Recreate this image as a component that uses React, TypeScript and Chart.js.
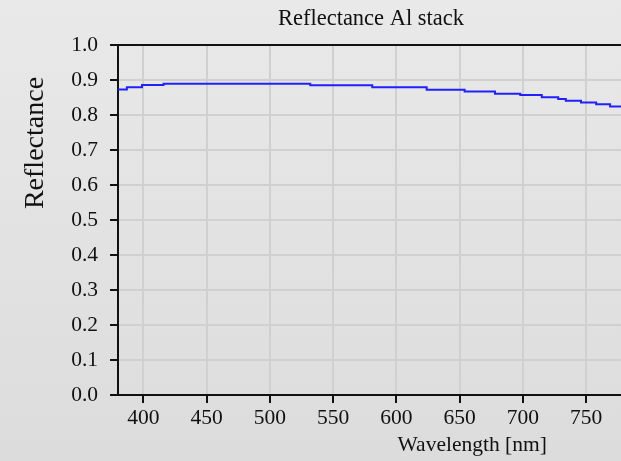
import React, { useEffect, useRef } from "react";
import { Chart, registerables } from "chart.js";

Chart.register(...registerables);

const titleText = "Reflectance Al stack";
const xTitle = "Wavelength [nm]";
const yTitle = "Reflectance";
const xTickValues = [400, 450, 500, 550, 600, 650, 700, 750];
// step starts (nm) and reflectance held from each start
const wavelengths = [380, 387, 399, 416, 532, 581, 624, 654, 678, 698, 715, 728, 734, 746, 758, 769, 780];
const reflectance = [0.873, 0.879, 0.886, 0.889, 0.885, 0.879, 0.872, 0.867, 0.861, 0.857, 0.851, 0.846, 0.841, 0.836, 0.831, 0.824, 0.82];

const FONT = "'Liberation Serif', 'Times New Roman', serif";
const TEXT = "#111";

const bgPlugin = {
  id: "bg",
  beforeDraw(chart: any) {
    const { ctx, width, height } = chart;
    const g = ctx.createLinearGradient(0, 0, 0, height);
    g.addColorStop(0, "#e9e9e9");
    g.addColorStop(1, "#dcdcdc");
    ctx.save();
    ctx.fillStyle = g;
    ctx.fillRect(0, 0, width, height);
    ctx.restore();
  },
};

const axisTitlePlugin = {
  id: "axisTitles",
  afterDraw(chart: any) {
    const { ctx, chartArea } = chart;
    const w = chartArea.right - chartArea.left;
    const h = chartArea.bottom - chartArea.top;
    ctx.save();
    ctx.fillStyle = TEXT;
    ctx.textAlign = "center";
    ctx.textBaseline = "middle";
    ctx.font = `21.5px ${FONT}`;
    ctx.fillText(xTitle, chartArea.left + w * 0.7, chartArea.bottom + 50);
    ctx.translate(36, chartArea.top + h * 0.28);
    ctx.rotate(-Math.PI / 2);
    ctx.font = `28px ${FONT}`;
    ctx.fillText(yTitle, 0, 0);
    ctx.restore();
  },
};

export default function App() {
  const ref = useRef<HTMLCanvasElement>(null);
  useEffect(() => {
    if (!ref.current) return;
    const chart = new Chart(ref.current, {
      type: "line",
      data: {
        datasets: [
          {
            data: wavelengths.map((w, i) => ({ x: w, y: reflectance[i] })),
            borderColor: "#2020ff",
            borderWidth: 2,
            pointRadius: 0,
            stepped: "before",
            fill: false,
          },
        ],
      },
      options: {
        animation: false,
        responsive: false,
        devicePixelRatio: 1,
        layout: { padding: { left: 0, right: 16, top: 0, bottom: 0 } },
        plugins: {
          legend: { display: false },
          tooltip: { enabled: false },
          title: {
            display: true,
            text: titleText,
            fullSize: false,
            color: TEXT,
            font: { family: FONT, size: 22.5, weight: "normal" },
            padding: { top: 6, bottom: 12 },
          },
        },
        scales: {
          x: {
            type: "linear",
            min: 380,
            max: 780,
            afterBuildTicks: (scale: any) => {
              scale.ticks = xTickValues.map((v) => ({ value: v }));
            },
            afterFit: (scale: any) => {
              scale.height = 66;
            },
            ticks: {
              color: TEXT,
              font: { family: FONT, size: 21.5 },
              padding: 2,
              maxRotation: 0,
              autoSkip: false,
            },
            grid: {
              color: "#d0d0d0",
              lineWidth: 2,
              tickColor: "#111",
              tickLength: 8,
              tickWidth: 2,
            },
            border: { color: "#111", width: 2 },
          },
          y: {
            min: 0,
            max: 1,
            ticks: {
              stepSize: 0.1,
              color: TEXT,
              font: { family: FONT, size: 21.5 },
              padding: 12,
              callback: (v: any) => Number(v).toFixed(1),
            },
            afterFit: (scale: any) => {
              scale.width = 118;
            },
            grid: {
              color: (c: any) => (c.tick && Math.abs(c.tick.value - 1) < 1e-9 ? "#111" : "#d0d0d0"),
              lineWidth: 2,
              tickColor: "#111",
              tickLength: 8,
              tickWidth: 2,
            },
            border: { color: "#111", width: 2 },
          },
        },
      },
      plugins: [bgPlugin, axisTitlePlugin],
    });
    return () => chart.destroy();
  }, []);
  return (
    <div style={{ position: "fixed", left: 0, top: 0, width: 621, height: 461, overflow: "hidden" }}>
      <canvas ref={ref} width={640} height={461} style={{ display: "block" }} />
    </div>
  );
}
